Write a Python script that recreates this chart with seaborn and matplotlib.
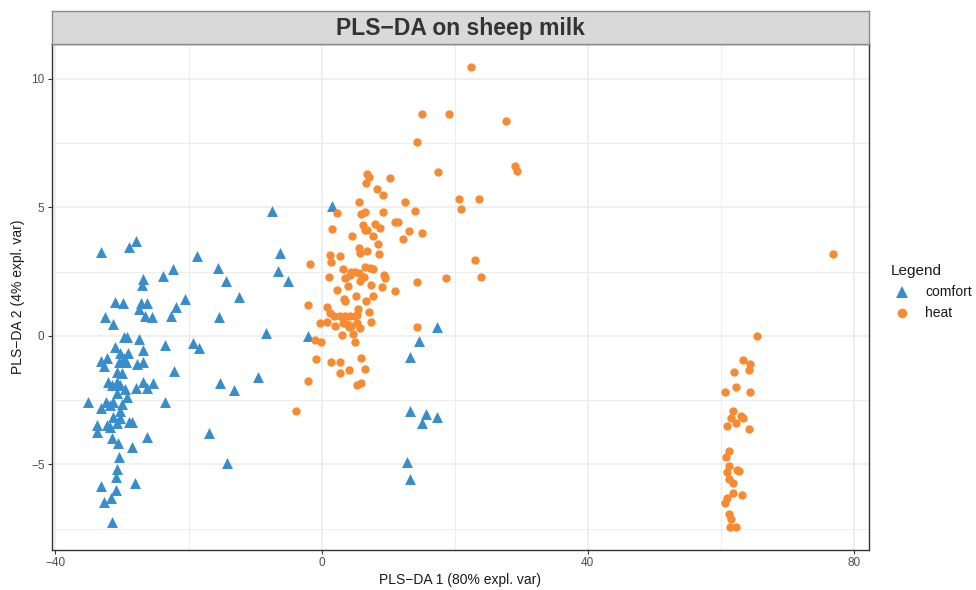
import matplotlib
matplotlib.use("Agg")
import matplotlib.pyplot as plt
from matplotlib.lines import Line2D
import numpy as np
import pandas as pd
import seaborn as sns

# ---------------- data ----------------
comfort_x = [-33.2, -28.9, -27.9, -18.8, -22.3, -23.9, -26.8, -27.0, -31.1, -29.8, -27.2, -26.3, -27.5,
             -20.6, -21.9, -32.6, -31.3, -26.5, -25.5, -22.6, -29.7, -29.2, -27.4, -31.1, -26.8, -23.5,
             -19.3, -18.5, -30.3, -29.1, -32.2, -33.2, -32.7, -29.7, -30.4, -29.4, -27.7, -26.9, -22.2,
             -30.8, -30.0,
             -32.1, -30.8, -30.3, -31.5, -26.9, -25.3, -27.9, -26.3, -29.5, -30.8, -29.3, -35.1, -32.4,
             -31.3, -31.8, -33.1, -30.0, -23.5, -30.3, -31.3, -30.3, -28.9, -28.5, -33.8, -33.8, -32.3,
             -31.8, -30.8, -31.5, -30.6, -28.5, -26.2, -30.4, -30.8, -30.9, -33.1, -30.9, -28.1, -31.7,
             -32.7, -31.5,
             -7.5, -6.3, -15.5, -6.6, -14.4, -5.1, -12.4, -15.4, -8.3, -2.0, -15.3, -13.2, -9.6, -16.9,
             -14.2,
             1.6, 14.6, 13.3, 17.3, 13.3, 15.7, 15.1, 17.3, 12.8, 13.3]
comfort_y = [3.28, 3.47, 3.70, 3.12, 2.60, 2.33, 2.22, 1.98, 1.32, 1.30, 1.30, 1.30, 1.04,
             1.43, 1.12, 0.73, 0.45, 0.78, 0.73, 0.79, -0.03, -0.03, -0.13, -0.44, -0.54, -0.35,
             -0.26, -0.48, -0.65, -0.65, -0.84, -0.97, -1.17, -0.84, -1.00, -1.00, -1.09, -1.00, -1.36,
             -1.39, -1.45,
             -1.80, -1.78, -1.91, -1.91, -1.80, -1.82, -2.04, -2.04, -2.07, -2.21, -2.36, -2.58, -2.58,
             -2.56, -2.68, -2.81, -2.66, -2.56, -2.94, -3.16, -3.20, -3.33, -3.33, -3.46, -3.72, -3.46,
             -3.55, -3.40, -3.96, -4.18, -4.31, -3.92, -4.72, -5.19, -5.47, -5.84, -5.99, -5.73, -6.30,
             -6.47, -7.23,
             4.88, 3.24, 2.66, 2.54, 2.14, 2.15, 1.51, 0.73, 0.13, 0.00, -1.84, -2.10, -1.58, -3.79,
             -4.95,
             5.07, -0.19, -0.83, 0.36, -2.92, -3.05, -3.37, -3.16, -4.91, -5.58]

heat_x = [-1.7, -2.1, -2.1, -3.9,
          6.9, 7.2, 6.7, 10.3, 8.4, 9.2, 5.7, 12.6, 2.3, 5.9, 6.5, 9.2, 14.0, 11.0, 11.5, 6.3, 8.0,
          8.8, 1.5, 6.5, 6.9, 4.6, 7.7, 13.2, 15.1, 12.3, 8.5, 5.7, 5.8, 6.9, 8.7, 1.2, 1.4, 2.7,
          3.2, 6.5, 7.3, 7.8, 4.5, 5.0, 5.7, 1.1, 3.5, 4.3, 6.4, 9.4, 9.5, 14.3, 5.8, 7.5, 2.3, 4.0,
          5.2, 7.8, 9.1, 6.7, 3.4, 3.5, 11.1, 0.8, 5.5, 7.1, 1.2, 1.8, 2.7, 3.5, 4.3, 5.0, 5.3,
          -0.3, 0.8, 2.0, 3.2, 3.8, 4.5, 5.3, 5.8, 7.4, 4.2, 14.3, 3.0, 4.8, -1.0, -0.1, 5.1,
          -0.8, 1.4, 2.8, 5.9, 4.1, 2.8, 6.6, 5.3, 5.9,
          22.5, 15.1, 19.2, 27.8, 14.3, 17.5, 29.1, 29.4, 20.6, 23.7, 21.0, 23.1, 18.7, 24.0,
          76.9,
          65.4, 63.3, 64.4, 64.2, 62.0, 62.3, 60.7, 64.4, 61.8, 61.6, 63.0, 63.4, 62.3, 61.0, 64.3,
          61.2, 60.8, 61.2, 60.9, 62.4, 62.8, 61.2, 61.8, 61.8, 63.2, 60.9, 60.7, 61.3, 61.6, 61.4,
          62.3]
heat_y = [2.80, 1.21, -1.74, -2.92,
          6.30, 6.17, 5.97, 6.15, 5.71, 5.49, 5.20, 5.23, 4.77, 4.73, 4.84, 4.84, 4.86, 4.44, 4.44,
          4.32, 4.36, 4.21, 4.16, 4.12, 4.12, 3.90, 3.89, 4.10, 4.00, 3.77, 3.57, 3.44, 3.24, 3.31,
          3.18, 3.15, 2.89, 3.10, 2.62, 2.70, 2.63, 2.62, 2.50, 2.50, 2.44, 2.31, 2.25, 2.37, 2.28,
          2.37, 2.25, 2.11, 2.15, 1.98, 1.80, 1.95,
          1.56, 1.56, 1.92, 1.37, 1.43, 1.34, 1.75, 1.12, 1.04, 0.92, 0.88, 0.76, 0.76, 0.76, 0.76,
          0.76, 0.80, 0.52, 0.56, 0.40, 0.49, 0.45, 0.40, 0.49, 0.32, 0.56, 0.34, 0.34, 0.04, 0.07,
          -0.16, -0.22, -0.22, -0.89, -1.02, -1.02, -0.84, -1.32, -1.45, -1.28, -1.91, -1.84,
          10.45, 8.65, 8.63, 8.35, 7.56, 6.38, 6.61, 6.43, 5.32, 5.33, 4.93, 2.97, 2.27, 2.31,
          3.19,
          0.01, -0.93, -1.10, -1.32, -1.41, -2.00, -2.19, -2.17, -2.91, -3.18, -3.10, -3.20, -3.40,
          -3.49, -3.61, -4.47, -4.70, -5.05, -5.28, -5.21, -5.25, -5.58, -5.73, -6.10, -6.19, -6.32,
          -6.49, -6.94, -7.13, -7.42, -7.44]

groups = ["comfort", "heat"]
group_colors = {"comfort": "#388ECC", "heat": "#F68B33"}
x_major = [-40, 0, 40, 80]
x_minor = [-20, 20, 60]
y_major = [-5, 0, 5, 10]
y_minor = [-7.5, -2.5, 2.5, 7.5]

df = pd.DataFrame({
    "x": comfort_x + heat_x,
    "y": comfort_y + heat_y,
    "group": ["comfort"] * len(comfort_x) + ["heat"] * len(heat_x),
})

# ---------------- style ----------------
sns.set_theme(style="white")
plt.rcParams["font.family"] = ["Liberation Sans", "DejaVu Sans"]
plt.rcParams["axes.unicode_minus"] = True

W, H = 976, 590
fig = plt.figure(figsize=(W / 100, H / 100), dpi=100)

L, R, B, T = 51.5, 869, 550, 44
ax = fig.add_axes([L / W, 1 - B / H, (R - L) / W, (B - T) / H])

sns.scatterplot(data=df[df.group == "comfort"], x="x", y="y", color=group_colors["comfort"],
                marker="^", s=62, linewidth=0, ax=ax, zorder=3, legend=False)
sns.scatterplot(data=df[df.group == "heat"], x="x", y="y", color=group_colors["heat"],
                marker="o", s=36, linewidth=0, ax=ax, zorder=3, legend=False)

ax.set_xlim(-40.6, 82.3)
ax.set_ylim(-8.33, 11.36)
ax.set_xticks(x_major)
ax.set_xticks(x_minor, minor=True)
ax.set_yticks(y_major)
ax.set_yticks(y_minor, minor=True)
ax.grid(True, which="major", color="#EBEBEB", lw=1.1, zorder=0)
ax.grid(True, which="minor", color="#EDEDED", lw=0.7, zorder=0)
ax.set_axisbelow(True)
ax.tick_params(axis="both", which="major", length=3, width=0.8, color="#333333",
               labelsize=8.5, labelcolor="#4D4D4D", pad=2, bottom=True, left=True)
ax.tick_params(axis="both", which="minor", length=0)
for sp in ax.spines.values():
    sp.set_color("#333333")
    sp.set_linewidth(1.0)

ax.set_xlabel("PLS\u2212DA 1 (80% expl. var)", fontsize=10, color="#1A1A1A", labelpad=3)
ax.set_ylabel("PLS\u2212DA 2 (4% expl. var)", fontsize=10, color="#1A1A1A", labelpad=4)

# strip title
sax = fig.add_axes([L / W, 1 - T / H, (R - L) / W, 33 / H])
sax.set_facecolor("#D9D9D9")
sax.set_xticks([])
sax.set_yticks([])
for sp in sax.spines.values():
    sp.set_color("#8C8C8C")
    sp.set_linewidth(1.0)
sax.text(0.5, 0.48, "PLS\u2212DA on sheep milk", ha="center", va="center",
         fontsize=16.5, fontweight="bold", color="#333333", transform=sax.transAxes)

# legend
handles = [Line2D([], [], marker="^", ls="", color=group_colors["comfort"], markersize=9, mew=0),
           Line2D([], [], marker="o", ls="", color=group_colors["heat"], markersize=7, mew=0)]
leg = fig.legend(handles, groups, title="Legend", loc="upper left",
                 bbox_to_anchor=(878 / W, 1 - 252 / H), frameon=False, fontsize=10,
                 title_fontsize=11, handletextpad=0.9, labelspacing=0.5, handlelength=1.6)
leg._legend_box.align = "left"
for t in leg.get_texts():
    t.set_color("#1A1A1A")
leg.get_title().set_color("#1A1A1A")

fig.savefig("out.png", dpi=100)
